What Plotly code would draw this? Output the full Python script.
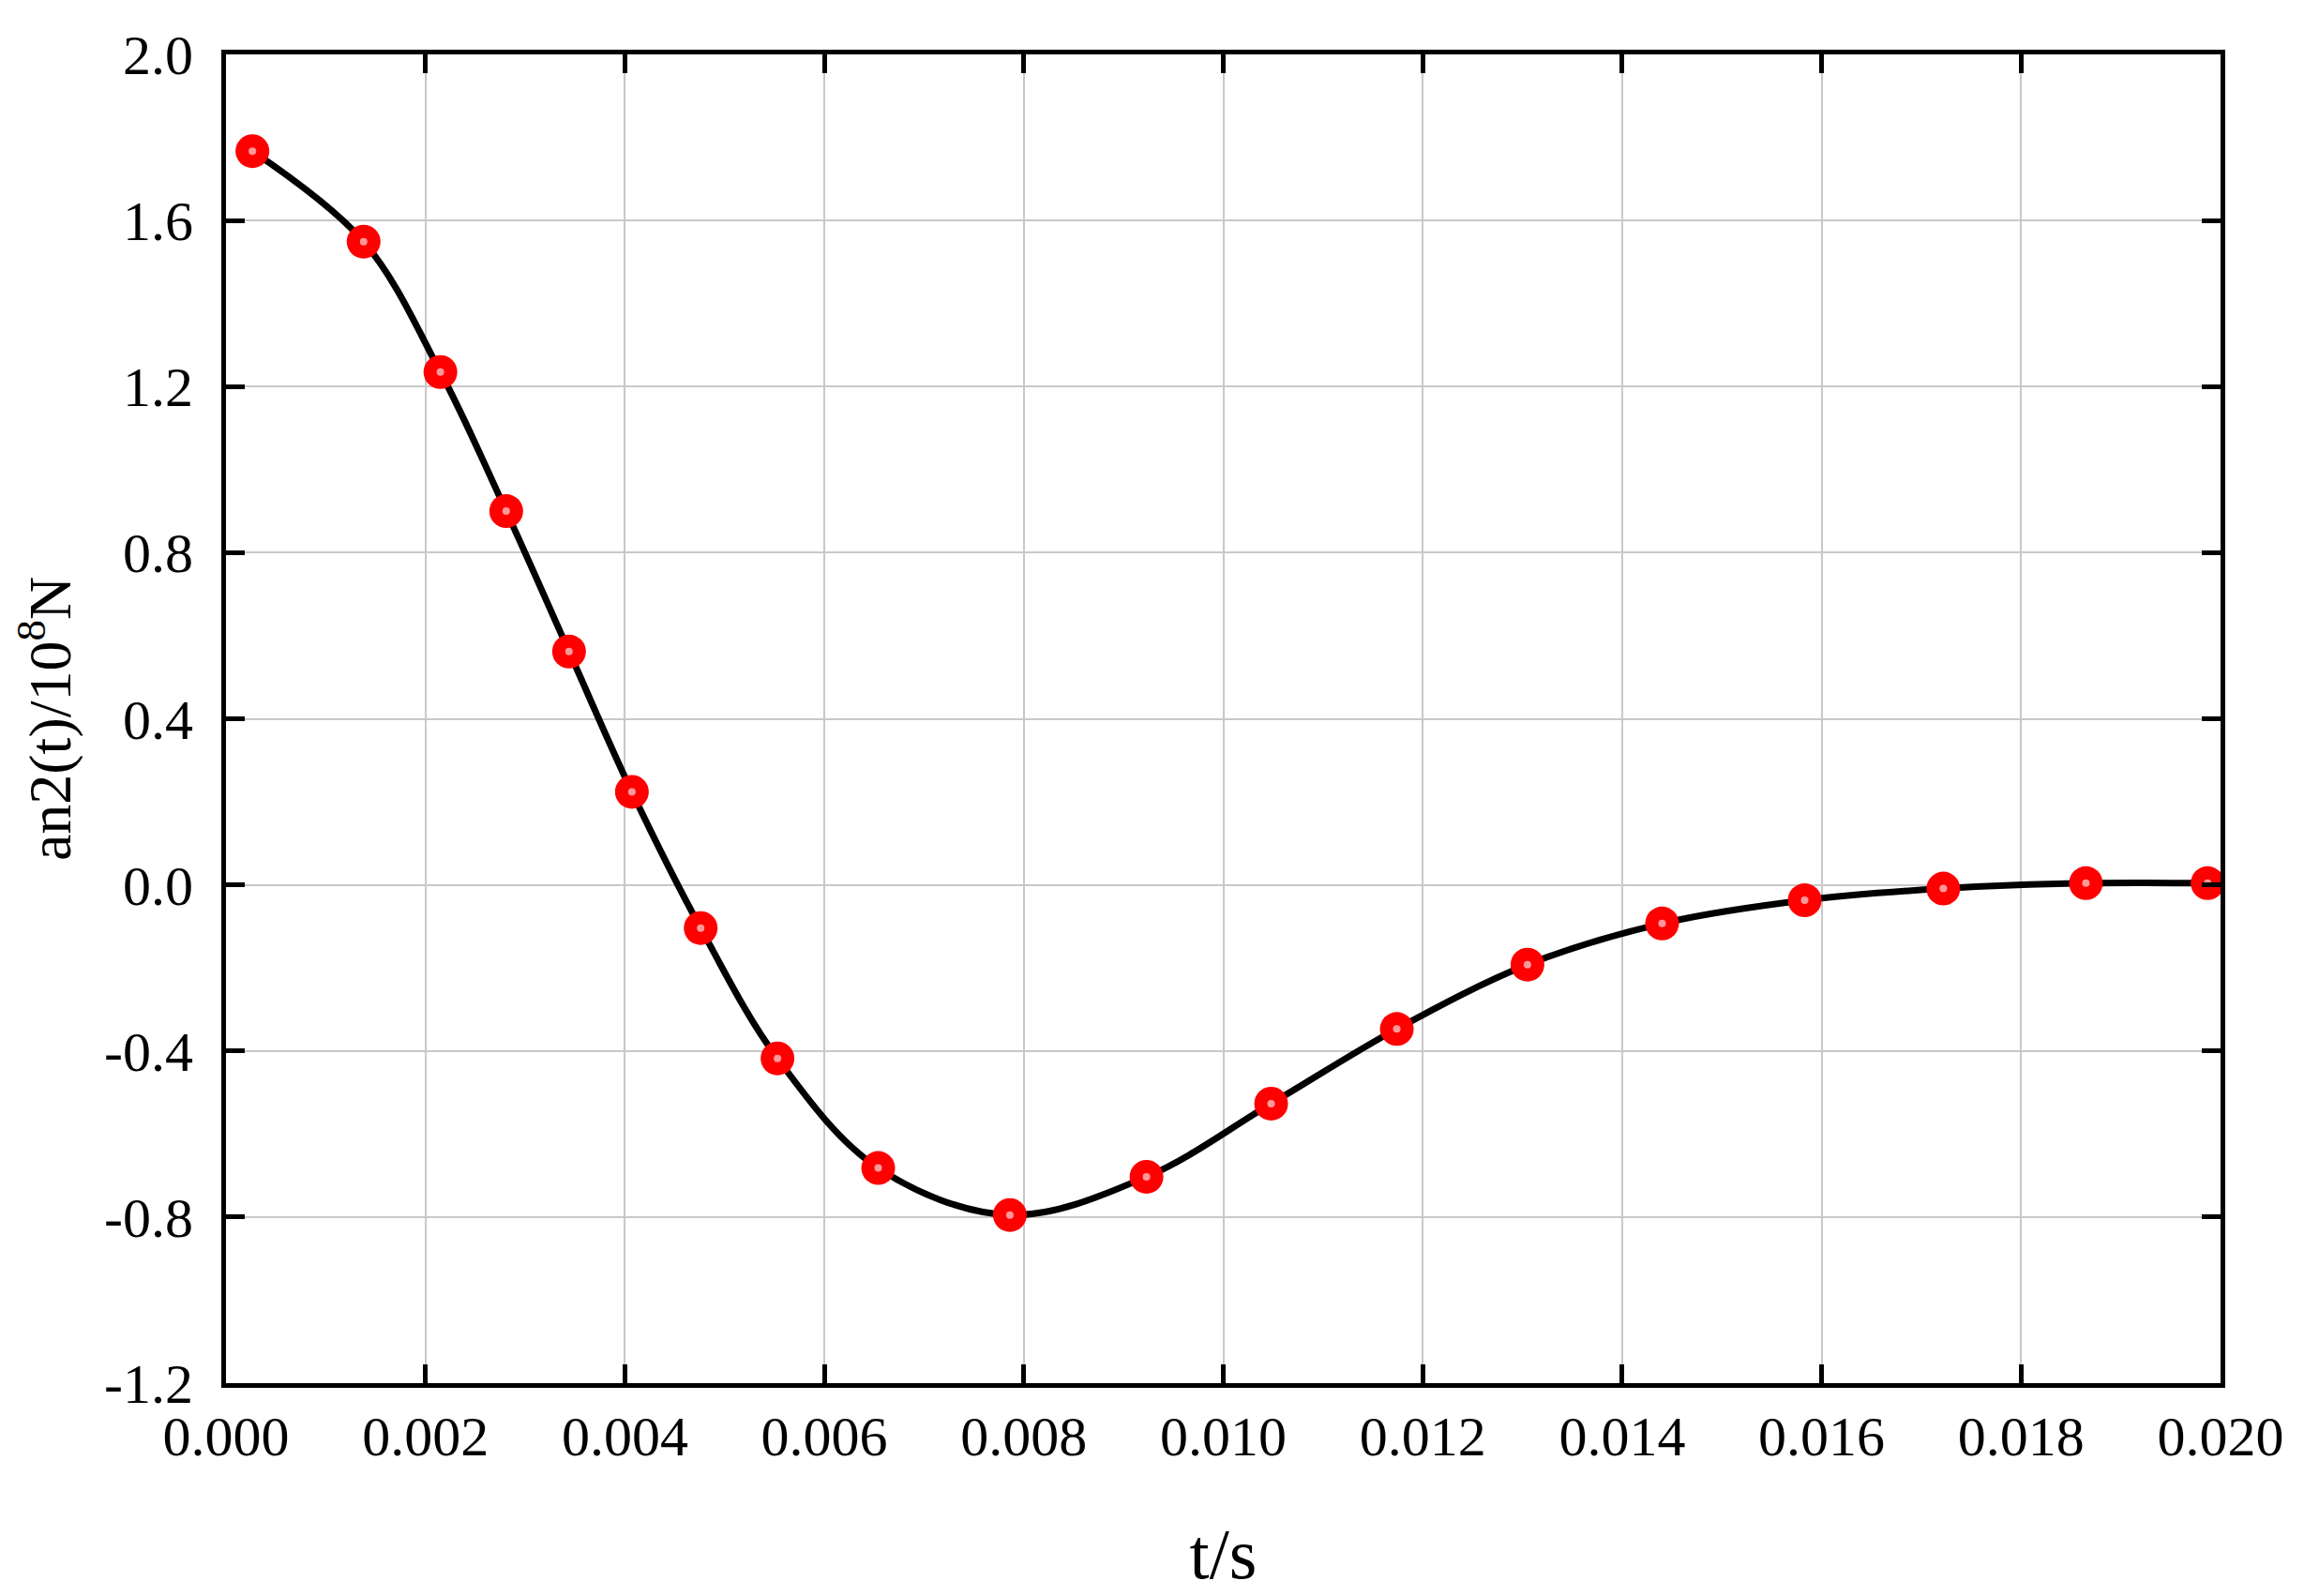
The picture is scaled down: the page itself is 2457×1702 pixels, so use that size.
import plotly.graph_objects as go

t_vals = [0.000265, 0.00138, 0.00215, 0.00281, 0.00344, 0.00407, 0.00476, 0.00553,
          0.00654, 0.00786, 0.00923, 0.01048, 0.01174, 0.01305, 0.01440, 0.01583,
          0.01722, 0.01865, 0.01987]
an2_vals = [1.767, 1.549, 1.235, 0.900, 0.562, 0.224, -0.104, -0.418,
            -0.682, -0.795, -0.703, -0.527, -0.347, -0.192, -0.093, -0.037,
            -0.009, 0.004, 0.004]

x_ticks = [0.000, 0.002, 0.004, 0.006, 0.008, 0.010, 0.012, 0.014, 0.016, 0.018, 0.020]
x_labels = ["0.000", "0.002", "0.004", "0.006", "0.008", "0.010", "0.012", "0.014", "0.016", "0.018", "0.020"]
y_ticks = [-1.2, -0.8, -0.4, 0.0, 0.4, 0.8, 1.2, 1.6, 2.0]
y_labels = ["-1.2", "-0.8", "-0.4", "0.0", "0.4", "0.8", "1.2", "1.6", "2.0"]

font_family = "Liberation Serif, Times New Roman, serif"

fig = go.Figure()
fig.add_trace(go.Scatter(
    x=t_vals, y=an2_vals, mode="lines",
    line=dict(color="black", width=7, shape="spline", smoothing=1.0),
    showlegend=False, hoverinfo="skip"))
fig.add_trace(go.Scatter(
    x=t_vals, y=an2_vals, mode="markers",
    marker=dict(color="#ff0000", size=36, line=dict(width=0)),
    showlegend=False))
fig.add_trace(go.Scatter(
    x=t_vals, y=an2_vals, mode="markers",
    marker=dict(color="rgba(255,170,170,0.9)", size=8, line=dict(width=0)),
    showlegend=False, hoverinfo="skip"))

axis_common = dict(
    showline=True, linecolor="black", linewidth=5, mirror="ticks",
    ticks="inside", ticklen=20, tickwidth=5, tickcolor="black",
    showgrid=True, gridcolor="#c8c8c8", gridwidth=2,
    zeroline=False, automargin=False,
    tickfont=dict(family=font_family, size=60, color="black"),
)

fig.update_xaxes(
    range=[0.0, 0.020], tickvals=x_ticks, ticktext=x_labels,
    ticklabelstandoff=0,
    title=dict(text="t/s", font=dict(family=font_family, size=76, color="black"), standoff=67),
    **axis_common)
fig.update_yaxes(
    range=[-1.2, 2.0], tickvals=y_ticks, ticktext=y_labels,
    ticklabelstandoff=18,
    title=dict(text="an2(t)/10<sup>8</sup>N", font=dict(family=font_family, size=64, color="black"), standoff=85),
    **axis_common)

fig.update_layout(
    width=2457, height=1702,
    margin=dict(l=233, r=97, t=50, b=235),
    paper_bgcolor="white", plot_bgcolor="white",
)

fig.write_html("out.html")
